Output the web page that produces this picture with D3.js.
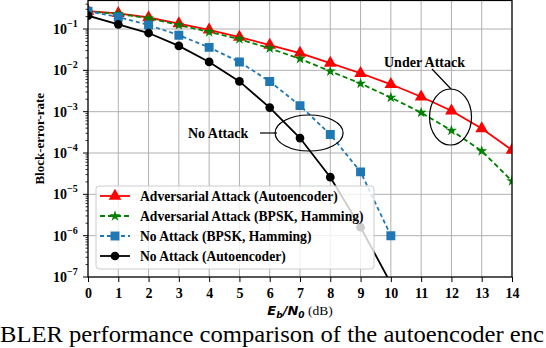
<!DOCTYPE html>
<html>
<head>
<meta charset="utf-8">
<script src="https://cdn.jsdelivr.net/npm/d3@7"></script>
<style>
  body { margin: 0; background: #fff; }
  svg { display: block; }
</style>
</head>
<body>
<div id="root"></div>
<script>
// Eb/N0 in dB
const snrAll = [0, 1, 2, 3, 4, 5, 6, 7, 8, 9, 10, 11, 12, 13, 14];
const snrNoAttack = [0, 1, 2, 3, 4, 5, 6, 7, 8, 9, 10];

const advAutoencoder = [0.27, 0.24, 0.19, 0.135, 0.095, 0.064, 0.041, 0.026, 0.015, 0.0085, 0.0046, 0.0023, 0.00105, 0.00039, 0.000118];
const advBpskHamming = [0.265, 0.232, 0.183, 0.125, 0.085, 0.057, 0.034, 0.019, 0.0095, 0.0048, 0.0022, 0.00095, 0.00035, 0.000112, 0.000021];
const noAttackBpskHamming = [0.27, 0.196, 0.125, 0.071, 0.036, 0.016, 0.0054, 0.0014, 0.00028, 0.000035, 0.000001];
const noAttackAutoencoder = [0.21, 0.13, 0.08, 0.039, 0.016, 0.0054, 0.00126, 0.00023, 0.000026, 0.0000016, 0.00000007];

const xTicks = [0, 1, 2, 3, 4, 5, 6, 7, 8, 9, 10, 11, 12, 13, 14];
const yExponents = [-7, -6, -5, -4, -3, -2, -1];

const series = [
  { name: "Adversarial Attack (Autoencoder)", x: snrAll, y: advAutoencoder, color: "#ff0000", dash: null, symbol: d3.symbolTriangle, size: 70 },
  { name: "Adversarial Attack (BPSK, Hamming)", x: snrAll, y: advBpskHamming, color: "#008000", dash: "5,3", symbol: d3.symbolStar, size: 38 },
  { name: "No Attack (BPSK, Hamming)", x: snrNoAttack, y: noAttackBpskHamming, color: "#1f77b4", dash: "4,3", symbol: d3.symbolSquare, size: 80 },
  { name: "No Attack (Autoencoder)", x: snrNoAttack, y: noAttackAutoencoder, color: "#000000", dash: null, symbol: d3.symbolCircle, size: 60 }
];

const width = 546;
const height = 348;
const plot = { left: 88, right: 512, top: 0.5, bottom: 277 };
const serif = "'Liberation Serif', 'Times New Roman', serif";

const svg = d3.select("#root")
  .append("svg")
  .attr("width", width)
  .attr("height", height)
  .attr("viewBox", `0 0 ${width} ${height}`);

const xScale = d3.scaleLinear().domain([0, 14]).range([plot.left, plot.right]);
const yScale = d3.scaleLog().domain([1e-7, 0.49]).range([plot.bottom, plot.top]);

svg.append("clipPath").attr("id", "clip")
  .append("rect")
  .attr("x", plot.left).attr("y", plot.top)
  .attr("width", plot.right - plot.left).attr("height", plot.bottom - plot.top);

// grid
const grid = svg.append("g").attr("stroke", "#b0b0b0").attr("stroke-width", 1);
grid.selectAll("line.gx").data(xTicks).join("line")
  .attr("x1", (d) => xScale(d)).attr("x2", (d) => xScale(d))
  .attr("y1", plot.top).attr("y2", plot.bottom);
grid.selectAll("line.gy").data(yExponents).join("line")
  .attr("x1", plot.left).attr("x2", plot.right)
  .attr("y1", (d) => yScale(Math.pow(10, d))).attr("y2", (d) => yScale(Math.pow(10, d)));

// lines and markers
const marks = svg.append("g").attr("clip-path", "url(#clip)");
const line = d3.line().x((d) => xScale(d[0])).y((d) => yScale(d[1]));

series.forEach((s) => {
  const pts = s.x.map((x, i) => [x, s.y[i]]);
  marks.append("path")
    .datum(pts)
    .attr("d", line)
    .attr("fill", "none")
    .attr("stroke", s.color)
    .attr("stroke-width", 1.8)
    .attr("stroke-dasharray", s.dash);
  marks.selectAll(null).data(pts).join("path")
    .attr("transform", (d) => `translate(${xScale(d[0])},${yScale(d[1])})`)
    .attr("d", d3.symbol().type(s.symbol).size(s.size))
    .attr("fill", s.color);
});

// axes
const bottomAxis = d3.axisBottom(xScale).tickValues(xTicks).tickSize(5).tickFormat(d3.format("d"));
const gx = svg.append("g")
  .attr("transform", `translate(0, ${plot.bottom})`)
  .call(bottomAxis);
gx.select(".domain").remove();
gx.selectAll("text")
  .attr("font-family", serif).attr("font-weight", "bold").attr("font-size", 14)
  .attr("dy", "0.95em");

const minorTicks = [];
yExponents.forEach((e) => {
  if (e >= -1) return;
  for (let k = 2; k <= 9; k++) minorTicks.push(k * Math.pow(10, e));
});
for (let k = 2; k <= 4; k++) minorTicks.push(k * 0.1);

const gy = svg.append("g").attr("transform", `translate(${plot.left}, 0)`);
gy.selectAll("line.minor").data(minorTicks).join("line")
  .attr("x1", 0).attr("x2", -2.5)
  .attr("y1", (d) => yScale(d)).attr("y2", (d) => yScale(d))
  .attr("stroke", "#000").attr("stroke-width", 0.8);
gy.selectAll("line.major").data(yExponents).join("line")
  .attr("x1", 0).attr("x2", -5)
  .attr("y1", (d) => yScale(Math.pow(10, d))).attr("y2", (d) => yScale(Math.pow(10, d)))
  .attr("stroke", "#000").attr("stroke-width", 1);
const yLabels = gy.selectAll("text").data(yExponents).join("text")
  .attr("x", -35).attr("y", (d) => yScale(Math.pow(10, d)) + 5)
  .attr("font-family", serif).attr("font-weight", "bold").attr("font-size", 14);
yLabels.append("tspan").text("10");
yLabels.append("tspan").attr("dy", -7).attr("font-size", 10).text((d) => "\u2212" + Math.abs(d));

// frame
svg.append("rect")
  .attr("x", plot.left).attr("y", plot.top)
  .attr("width", plot.right - plot.left).attr("height", plot.bottom - plot.top)
  .attr("fill", "none").attr("stroke", "#000").attr("stroke-width", 1.2);

// axis titles
const xTitle = svg.append("text")
  .attr("x", (plot.left + plot.right) / 2).attr("y", 315)
  .attr("text-anchor", "middle");
xTitle.append("tspan").attr("font-family", "'DejaVu Sans', sans-serif")
  .attr("font-weight", "bold").attr("font-style", "italic").attr("font-size", 13).text("E");
xTitle.append("tspan").attr("font-family", "'DejaVu Sans', sans-serif")
  .attr("font-weight", "bold").attr("font-style", "italic").attr("font-size", 9).attr("dy", 3).text("b");
xTitle.append("tspan").attr("font-family", "'DejaVu Sans', sans-serif")
  .attr("font-weight", "bold").attr("font-style", "italic").attr("font-size", 13).attr("dy", -3).text("/N");
xTitle.append("tspan").attr("font-family", "'DejaVu Sans', sans-serif")
  .attr("font-weight", "bold").attr("font-style", "italic").attr("font-size", 9).attr("dy", 3).text("0");
xTitle.append("tspan").attr("font-family", serif).attr("font-size", 13.5).attr("dy", -3).text(" (dB)");

svg.append("text")
  .attr("transform", `translate(44, ${(plot.top + plot.bottom) / 2}) rotate(-90)`)
  .attr("text-anchor", "middle")
  .attr("font-family", serif).attr("font-weight", "bold").attr("font-size", 13)
  .text("Block-error-rate");

// annotations
const ann = svg.append("g").attr("fill", "none").attr("stroke", "#000").attr("stroke-width", 1.2);
ann.append("ellipse").attr("cx", xScale(7.3)).attr("cy", 133).attr("rx", 34).attr("ry", 18);
ann.append("line").attr("x1", 260).attr("y1", 133).attr("x2", 277).attr("y2", 133);
ann.append("ellipse").attr("cx", xScale(11.97)).attr("cy", 117).attr("rx", 21).attr("ry", 28);
ann.append("line").attr("x1", 432).attr("y1", 69).attr("x2", 451).attr("y2", 89);

svg.append("text").attr("x", 188).attr("y", 138)
  .attr("font-family", serif).attr("font-weight", "bold").attr("font-size", 14)
  .text("No Attack");
svg.append("text").attr("x", 384).attr("y", 67)
  .attr("font-family", serif).attr("font-weight", "bold").attr("font-size", 14)
  .text("Under Attack");

// legend
const legend = svg.append("g");
legend.append("rect")
  .attr("x", 96).attr("y", 186).attr("width", 278).attr("height", 83)
  .attr("rx", 3)
  .attr("fill", "#fff").attr("fill-opacity", 0.8)
  .attr("stroke", "#cccccc");
series.forEach((s, i) => {
  const yy = 196 + i * 20;
  legend.append("line")
    .attr("x1", 100).attr("x2", 130).attr("y1", yy).attr("y2", yy)
    .attr("stroke", s.color).attr("stroke-width", 1.8)
    .attr("stroke-dasharray", s.dash);
  legend.append("path")
    .attr("transform", `translate(115,${yy})`)
    .attr("d", d3.symbol().type(s.symbol).size(s.size))
    .attr("fill", s.color);
  legend.append("text")
    .attr("x", 140).attr("y", yy + 4.5)
    .attr("font-family", serif).attr("font-weight", "bold").attr("font-size", 13.6)
    .text(s.name);
});

// caption fragment
svg.append("text")
  .attr("x", 0).attr("y", 342)
  .attr("font-family", serif).attr("font-size", 23)
  .attr("textLength", 544).attr("lengthAdjust", "spacingAndGlyphs")
  .text("BLER performance comparison of the autoencoder enc");
</script>
</body>
</html>
